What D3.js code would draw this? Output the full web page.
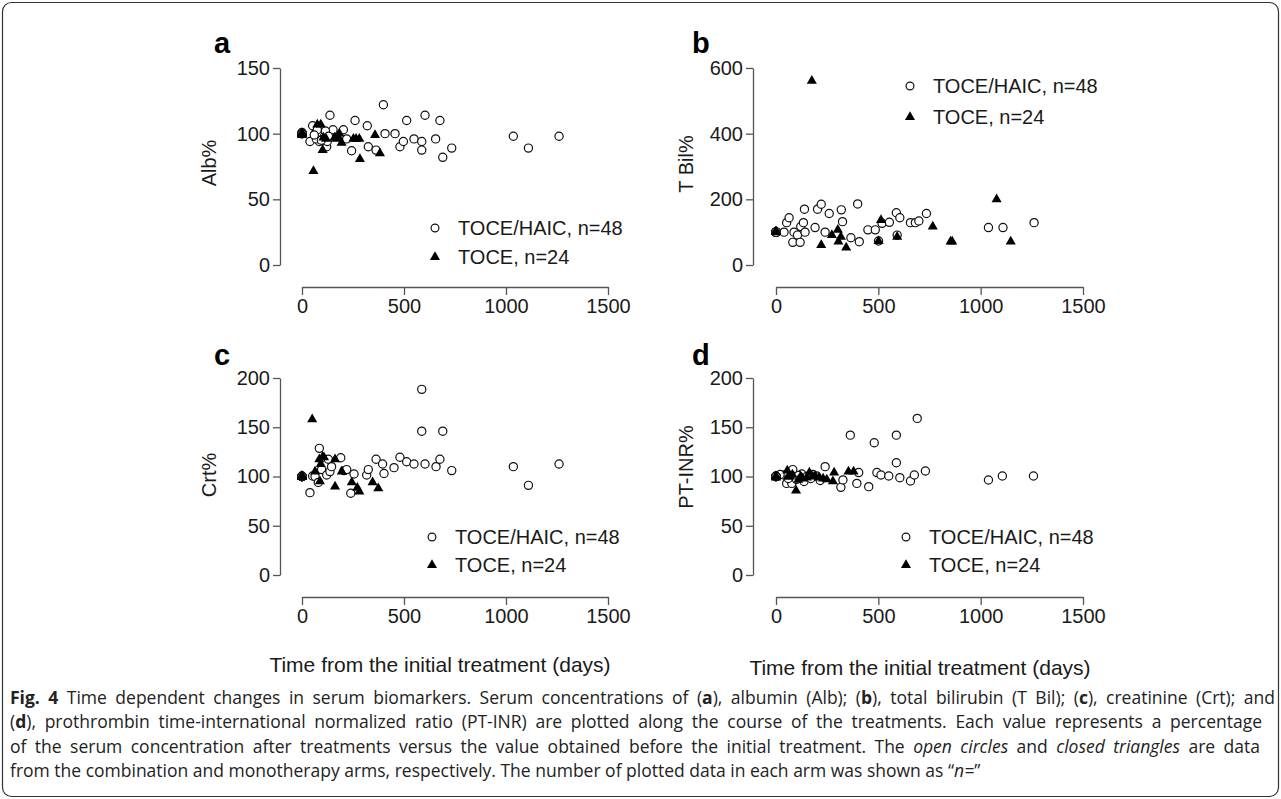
<!DOCTYPE html>
<html>
<head>
<meta charset="UTF-8" />
<script src="https://d3js.org/d3.v7.min.js"></script>
<style>
  body { margin: 0; background: #fff; }
  svg { display: block; }
  .tick text { font-family: "Liberation Sans", Arial, sans-serif; font-size: 20px; fill: #1a1a1a; }
  .axis path, .axis line { stroke: #555; stroke-width: 1.3px; }
</style>
</head>
<body>
<script>
  // days after initial treatment, % of baseline value
  // open circles: TOCE/HAIC arm, closed triangles: TOCE arm
  var albHaic = [[0,100],[0,101],[39,94],[52,106],[64,100],[85,94],[105,100],[121,90],[124,94],[137,114],
    [145,100],[152,103],[203,103],[219,96],[243,87],[260,110],[320,106],[325,90],[363,87.5],[399,122],
    [407,100],[456,100],[480,90],[497,94],[513,110],[549,96],[587,94],[587,87.5],[603,114],[655,96],
    [676,110],[690,82],[734,89],[1036,98],[1110,89],[1260,98],
    [0,100],[0,100],[0,100],[0,100],[70,96],[90,101],[110,98],[75,103],[95,95],[115,102],[130,98],[60,99]];
  var albToce = [[0,99],[0,100],[56,71.5],[75,107],[92,107],[101,87.5],[118,96],[170,96],[183,100],[194,93],
    [252,96],[281,96],[284,80.7],[358,99],[382,85],
    [0,100],[0,100],[0,100],[0,100],[0,100],[105,97],[160,97],[176,98],[265,96]];

  var bilHaic = [[0,101],[39,100],[52,129],[64,144],[82,69],[88,100],[105,91],[118,69],[121,117],[134,129],
    [142,100],[139,170],[191,114],[203,170],[221,185],[240,100],[260,157],[319,168],[325,132],[366,83],
    [399,186],[407,71],[449,107],[485,107],[501,73],[518,127],[554,130],[588,159],[592,91],[605,144],
    [657,129],[681,129],[698,134],[735,157],[1038,114],[1109,114],[1261,129],
    [0,100],[0,100],[0,100],[0,100],[0,100],[0,100],[0,100],[0,100],[0,100],[0,100],[0,100]];
  var bilToce = [[0,100],[175,561],[221,61],[273,91],[302,107],[305,71],[317,86],[343,53],[501,73],[513,137],
    [592,86],[766,117],[853,71],[861,71],[1078,200],[1147,71],
    [0,100],[0,100],[0,100],[0,100],[0,100],[0,100],[0,100],[0,100]];

  var crtHaic = [[0,100.5],[39,83.6],[52,100.5],[64,100],[85,128.6],[80,94],[96,107],[121,101.5],[129,117.5],[137,105],
    [145,110],[190,119],[206,106],[219,107],[239,83],[255,102.5],[317,101.5],[325,107],[363,117.5],[395,112.7],
    [402,103],[451,109],[480,119.5],[513,115],[549,112.7],[587,188.5],[587,146],[603,112.7],[657,110],[676,117.5],
    [690,146],[734,106],[1036,110],[1110,91],[1260,112.7],
    [0,100],[0,100],[0,100],[0,100],[0,100],[0,100],[0,100],[0,100],[0,100],[0,100],[0,100],[0,100],[0,100]];
  var crtToce = [[0,100.5],[50,158],[64,105],[85,117.5],[92,112.7],[101,120],[88,95],[108,119.5],[162,89.7],[162,117.5],
    [195,105],[244,94],[271,88.6],[281,84.6],[346,94],[374,88],
    [0,100],[0,100],[0,100],[0,100],[0,100],[0,100],[0,100],[0,100]];

  var inrHaic = [[0,100.5],[39,101.5],[52,93],[82,107],[77,93],[88,100],[126,102.5],[137,95],[199,100.5],[216,96],
    [240,110],[317,89],[327,96.5],[363,142],[395,93],[404,104],[453,89.7],[480,134.3],[493,104],[513,101.5],
    [551,100.5],[588,142],[588,114],[605,98.8],[657,95.4],[676,101.5],[690,159],[730,105.6],[1038,96.4],[1106,100.5],
    [1258,100.5],
    [20,102],[60,98],[100,97],[110,101],[150,100],[170,98],[180,102],
    [0,100],[0,100],[0,100],[0,100],[0,100],[0,100],[0,100],[0,100],[0,100],[0,100]];
  var inrToce = [[0,99],[55,106],[69,100],[98,85.6],[109,96.5],[120,100],[163,104],[180,100],[191,100.5],[248,97],
    [284,104],[278,95],[354,105],[379,105],
    [60,100],[80,102],[130,98],[150,99],[210,99],[230,98],[0,100],[0,100],[0,100],[0,100]];

  var xTicks = [0, 500, 1000, 1500];
  var legendLabels = ["TOCE/HAIC, n=48", "TOCE, n=24"];
  var xTitle = "Time from the initial treatment (days)";

  var panels = [
    { id: "a", title: "Alb%", yMax: 150, yTicks: [0, 50, 100, 150], haic: albHaic, toce: albToce,
      axisX: 280, xr: [302, 608], yr: [265, 68], baseY: 287, lab: [214, 53], ttl: [216, 163], leg: [435, 228, 29] },
    { id: "b", title: "T Bil%", yMax: 600, yTicks: [0, 200, 400, 600], haic: bilHaic, toce: bilToce,
      axisX: 753, xr: [776, 1083], yr: [265, 68], baseY: 287, lab: [692, 53], ttl: [693, 164], leg: [910, 86, 31] },
    { id: "c", title: "Crt%", yMax: 200, yTicks: [0, 50, 100, 150, 200], haic: crtHaic, toce: crtToce,
      axisX: 280, xr: [302, 608], yr: [575, 378], baseY: 597, lab: [214, 365], ttl: [216, 475], leg: [432, 537, 28] },
    { id: "d", title: "PT-INR%", yMax: 200, yTicks: [0, 50, 100, 150, 200], haic: inrHaic, toce: inrToce,
      axisX: 753, xr: [776, 1083], yr: [575, 378], baseY: 597, lab: [692, 365], ttl: [693, 467], leg: [906, 537, 28] }
  ];

  var W = 1281, H = 799;
  var svg = d3.select("body").append("svg").attr("width", W).attr("height", H);

  // frame round the figure
  svg.append("rect")
    .attr("x", 2.5).attr("y", 2.5).attr("width", W - 5).attr("height", H - 5)
    .attr("rx", 9).attr("fill", "none").attr("stroke", "#333").attr("stroke-width", 1.2);

  var tri = d3.symbol().type(d3.symbolTriangle).size(44);
  var font = "'Liberation Sans', Arial, sans-serif";

  panels.forEach(function (p) {
    var x = d3.scaleLinear().domain([0, 1500]).range(p.xr);
    var y = d3.scaleLinear().domain([0, p.yMax]).range(p.yr);
    var g = svg.append("g");

    g.append("g").attr("class", "axis")
      .attr("transform", "translate(" + p.axisX + ",0)")
      .call(d3.axisLeft(y).tickValues(p.yTicks).tickSize(7).tickSizeOuter(0).tickPadding(3));

    g.append("g").attr("class", "axis")
      .attr("transform", "translate(0," + p.baseY + ")")
      .call(d3.axisBottom(x).tickValues(xTicks).tickFormat(d3.format("d"))
        .tickSize(8).tickSizeOuter(0).tickPadding(4));

    g.append("text")
      .attr("x", p.lab[0]).attr("y", p.lab[1])
      .attr("font-family", font).attr("font-weight", "bold").attr("font-size", 29)
      .text(p.id);

    g.append("text")
      .attr("transform", "translate(" + p.ttl[0] + "," + p.ttl[1] + ") rotate(-90)")
      .attr("text-anchor", "middle")
      .attr("font-family", font).attr("font-size", 20).attr("fill", "#1a1a1a")
      .text(p.title);

    // circles first, triangles drawn over them
    g.selectAll("circle.pt").data(p.haic).enter().append("circle")
      .attr("class", "pt")
      .attr("cx", function (d) { return x(d[0]); })
      .attr("cy", function (d) { return y(d[1]); })
      .attr("r", 4.1)
      .attr("fill", "#fff").attr("stroke", "#111").attr("stroke-width", 1.2);

    g.selectAll("path.pt").data(p.toce).enter().append("path")
      .attr("class", "pt")
      .attr("d", tri)
      .attr("transform", function (d) { return "translate(" + x(d[0]) + "," + y(d[1]) + ")"; })
      .attr("fill", "#000");

    // legend
    var lx = p.leg[0], ly = p.leg[1], gap = p.leg[2];
    g.append("circle").attr("cx", lx).attr("cy", ly).attr("r", 3.9)
      .attr("fill", "#fff").attr("stroke", "#111").attr("stroke-width", 1.2);
    g.append("path").attr("d", tri).attr("transform", "translate(" + lx + "," + (ly + gap) + ")").attr("fill", "#000");
    legendLabels.forEach(function (t, i) {
      g.append("text")
        .attr("x", lx + 23).attr("y", ly + i * gap + 7)
        .attr("font-family", font).attr("font-size", 20).attr("fill", "#1a1a1a")
        .text(t);
    });
  });

  svg.append("text").attr("x", 440).attr("y", 672).attr("text-anchor", "middle")
    .attr("font-family", font).attr("font-size", 21).attr("fill", "#1a1a1a").text(xTitle);
  svg.append("text").attr("x", 920).attr("y", 675).attr("text-anchor", "middle")
    .attr("font-family", font).attr("font-size", 21).attr("fill", "#1a1a1a").text(xTitle);

  // caption, each line a list of [text, style]
  var caption = [
    [["Fig. 4", "b"], [" Time dependent changes in serum biomarkers. Serum concentrations of (", ""], ["a", "b"],
     ["), albumin (Alb); (", ""], ["b", "b"], ["), total bilirubin (T Bil); (", ""], ["c", "b"], ["), creatinine (Crt); and", ""]],
    [["(", ""], ["d", "b"], ["), prothrombin time-international normalized ratio (PT-INR) are plotted along the course of the treatments. Each value represents a percentage", ""]],
    [["of the serum concentration after treatments versus the value obtained before the initial treatment. The ", ""], ["open circles", "i"],
     [" and ", ""], ["closed triangles", "i"], [" are data", ""]],
    [["from the combination and monotherapy arms, respectively. The number of plotted data in each arm was shown as \u201C", ""], ["n=", "i"], ["\u201D", ""]]
  ];
  var capWidths = [1265, 1252, 1250, null];

  caption.forEach(function (line, i) {
    var t = svg.append("text")
      .attr("x", 10).attr("y", 704 + i * 24.3)
      .attr("font-family", "'Open Sans', 'Noto Sans', sans-serif").attr("font-size", 17.5).attr("fill", "#222");
    line.forEach(function (s) {
      t.append("tspan")
        .attr("font-weight", s[1] === "b" ? "bold" : null)
        .attr("font-style", s[1] === "i" ? "italic" : null)
        .text(s[0]);
    });
    // justify by changing the word gaps
    if (capWidths[i]) {
      var natural = t.node().getComputedTextLength();
      var gaps = line.map(function (s) { return s[0]; }).join("").split(" ").length - 1;
      t.attr("word-spacing", (capWidths[i] - natural) / gaps);
    }
  });
</script>
</body>
</html>
